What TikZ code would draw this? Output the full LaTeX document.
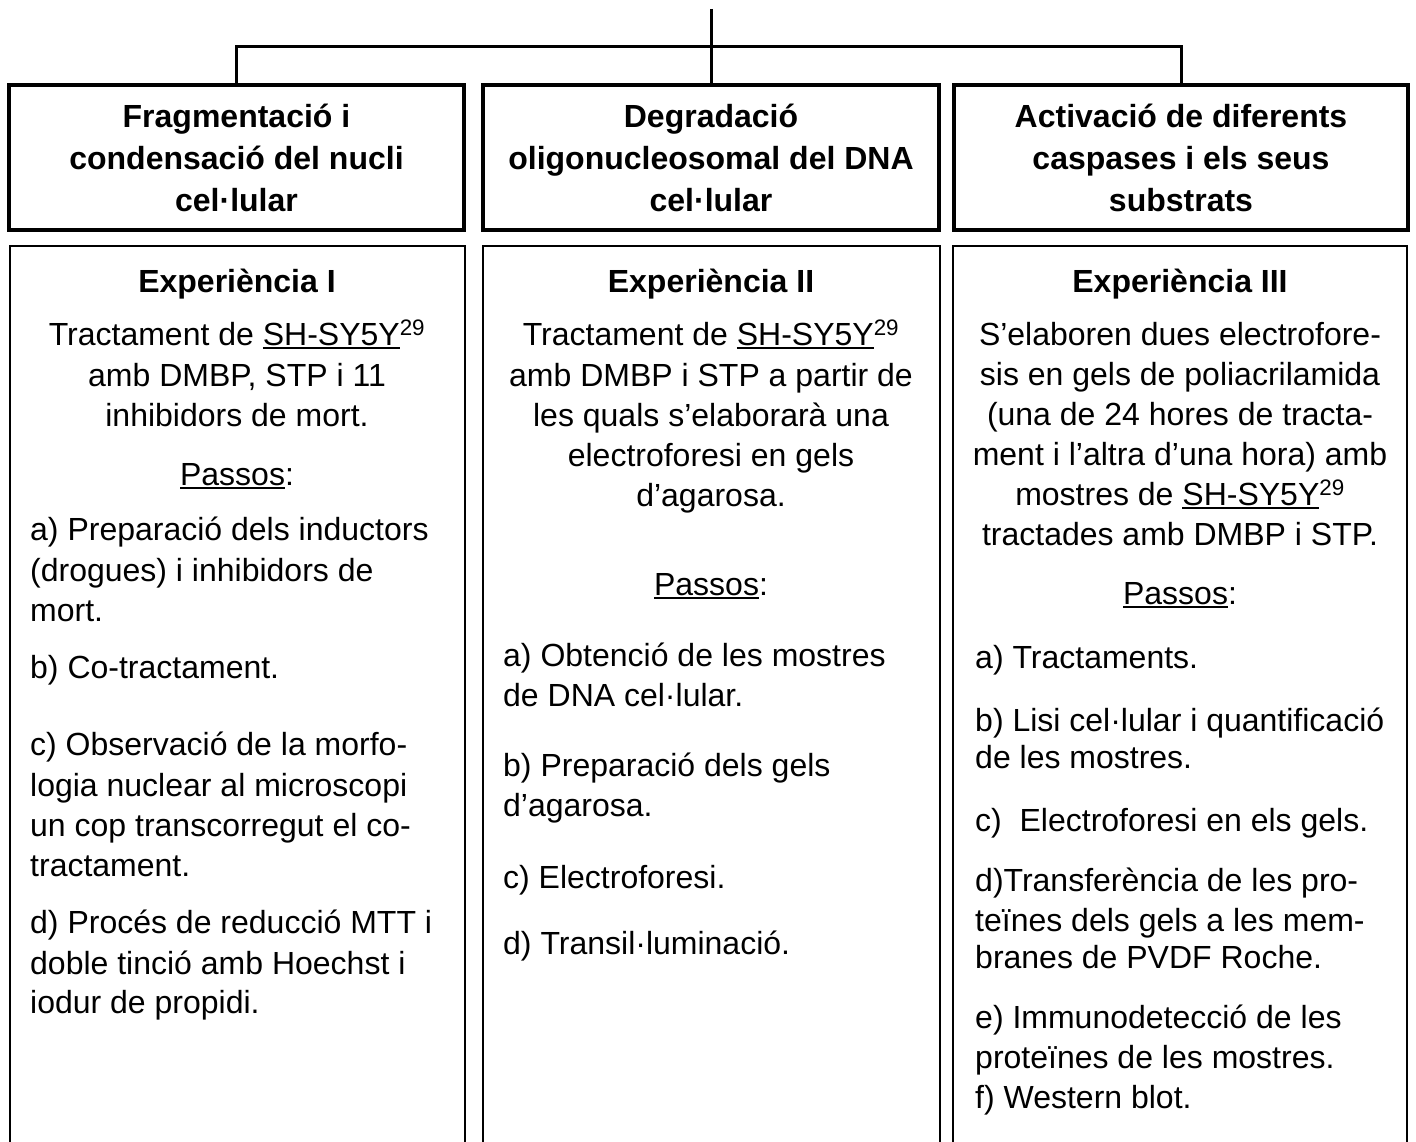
\documentclass[tikz,border=0pt]{standalone}
\usepackage{fontspec}
\setmainfont{Liberation Sans}
% underline with a rule sitting just under the baseline
\newcommand\ulpart[1]{\setbox0\hbox{#1}\rlap{\rule[-3.5pt]{\wd0}{2pt}}\box0}
\begin{document}
\begin{tikzpicture}[x=1pt,y=-1pt,
  hdr/.style={draw, line width=4pt, inner sep=0pt, align=center, minimum height=145pt,
              font=\fontsize{32}{42}\selectfont\bfseries},
  lowbox/.style={draw, line width=2pt, inner sep=0pt, minimum height=954pt},
  link/.style={line width=3pt},
  tc/.style={anchor=base, inner sep=0pt, font=\fontsize{32}{40}\selectfont},
  tl/.style={anchor=base west, inner sep=0pt, font=\fontsize{32}{40}\selectfont},
  tb/.style={anchor=base, inner sep=0pt, font=\fontsize{32}{40}\selectfont\bfseries}]
\useasboundingbox (0,0) rectangle (1416,1142);
\clip (0,0) rectangle (1416,1142);
\fill[white] (0,0) rectangle (1416,1142);

% header boxes
\node[hdr, minimum width=455pt] (h1) at (236.5,158) {Fragmentació i\\condensació del nucli\\cel·lular};
\node[hdr, minimum width=456pt] (h2) at (711,158) {Degradació\\oligonucleosomal del DNA\\cel·lular};
\node[hdr, minimum width=454pt] (h3) at (1181,158) {Activació de diferents\\caspases i els seus\\substrats};

% connectors
\coordinate (top) at (711,9);
\coordinate (bus) at (711,47);
\draw[link] (top) -- (h2.north);
\draw[link] (h1.north) |- (bus) -| (h3.north);

% lower boxes (run off the bottom edge)
\node[lowbox, minimum width=455pt] (b1) at (237.5,723) {};
\node[lowbox, minimum width=457pt] (b2) at (711.5,723) {};
\node[lowbox, minimum width=454pt] (b3) at (1180,723) {};

% column I
\node[tb] (e1) at (237,292) {Experiència I};
\node[tc] (e1t1) at (237,345) {Tractament de \ulpart{SH-SY5Y}\textsuperscript{29}};
\node[tc] (e1t2) at (237,386) {amb DMBP, STP i 11};
\node[tc] (e1t3) at (237,426) {inhibidors de mort.};
\node[tc] (e1p) at (237,485) {\ulpart{Passos}:};
\node[tl] (e1a1) at (30,540) {a) Preparació dels inductors};
\node[tl] (e1a2) at (30,581) {(drogues) i inhibidors de};
\node[tl] (e1a3) at (30,621) {mort.};
\node[tl] (e1b1) at (30,678) {b) Co-tractament.};
\node[tl] (e1c1) at (30,755) {c) Observació de la morfo-};
\node[tl] (e1c2) at (30,796) {logia nuclear al microscopi};
\node[tl] (e1c3) at (30,836) {un cop transcorregut el co-};
\node[tl] (e1c4) at (30,876) {tractament.};
\node[tl] (e1d1) at (30,933) {d) Procés de reducció MTT i};
\node[tl] (e1d2) at (30,974) {doble tinció amb Hoechst i};
\node[tl] (e1d3) at (30,1013) {iodur de propidi.};

% column II
\node[tb] (e2) at (711,292) {Experiència II};
\node[tc] (e2t1) at (711,345) {Tractament de \ulpart{SH-SY5Y}\textsuperscript{29}};
\node[tc] (e2t2) at (711,386) {amb DMBP i STP a partir de};
\node[tc] (e2t3) at (711,426) {les quals s’elaborarà una};
\node[tc] (e2t4) at (711,466) {electroforesi en gels};
\node[tc] (e2t5) at (711,506) {d’agarosa.};
\node[tc] (e2p) at (711,595) {\ulpart{Passos}:};
\node[tl] (e2a1) at (503,666) {a) Obtenció de les mostres};
\node[tl] (e2a2) at (503,706) {de DNA cel·lular.};
\node[tl] (e2b1) at (503,776) {b) Preparació dels gels};
\node[tl] (e2b2) at (503,816) {d’agarosa.};
\node[tl] (e2c1) at (503,888) {c) Electroforesi.};
\node[tl] (e2d1) at (503,954) {d) Transil·luminació.};

% column III
\node[tb] (e3) at (1180,292) {Experiència III};
\node[tc] (e3t1) at (1180,345) {S’elaboren dues electrofore-};
\node[tc] (e3t2) at (1180,385) {sis en gels de poliacrilamida};
\node[tc] (e3t3) at (1180,425) {(una de 24 hores de tracta-};
\node[tc] (e3t4) at (1180,465) {ment i l’altra d’una hora) amb};
\node[tc] (e3t5) at (1180,505) {mostres de \ulpart{SH-SY5Y}\textsuperscript{29}};
\node[tc] (e3t6) at (1180,545) {tractades amb DMBP i STP.};
\node[tc] (e3p) at (1180,604) {\ulpart{Passos}:};
\node[tl] (e3a1) at (975,668) {a) Tractaments.};
\node[tl] (e3b1) at (975,731) {b) Lisi cel·lular i quantificació};
\node[tl] (e3b2) at (975,768) {de les mostres.};
\node[tl] (e3c1) at (975,831) {c)\ \ Electroforesi en els gels.};
\node[tl] (e3d1) at (975,891) {d)Transferència de les pro-};
\node[tl] (e3d2) at (975,931) {teïnes dels gels a les mem-};
\node[tl] (e3d3) at (975,968) {branes de PVDF Roche.};
\node[tl] (e3e1) at (975,1028) {e) Immunodetecció de les};
\node[tl] (e3e2) at (975,1068) {proteïnes de les mostres.};
\node[tl] (e3f1) at (975,1108) {f) Western blot.};
\end{tikzpicture}
\end{document}
